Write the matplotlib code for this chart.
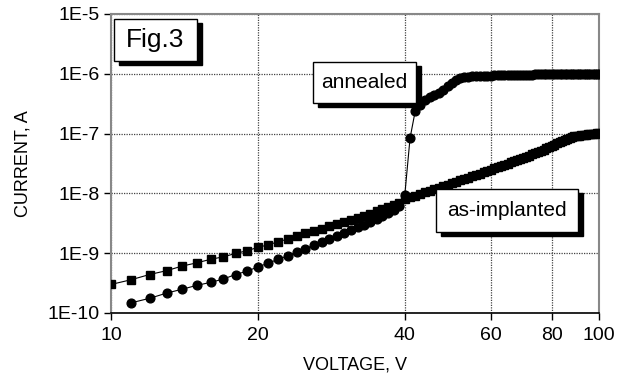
import numpy as np
import matplotlib.pyplot as plt
from matplotlib.patches import Rectangle
from matplotlib.ticker import FixedLocator, FuncFormatter, NullLocator

plt.rcParams['font.family'] = ['Liberation Sans', 'DejaVu Sans']

# as-implanted (squares), 10..100 V in 1 V steps
v_impl = list(range(10, 101))
i_impl = [3.0e-10, 3.6e-10, 4.4e-10, 5.1e-10, 6.1e-10, 6.9e-10, 7.9e-10, 8.7e-10, 9.9e-10, 1.1e-9,
          1.25e-9, 1.38e-9, 1.55e-9, 1.72e-9, 1.92e-9, 2.15e-9, 2.35e-9, 2.55e-9, 2.8e-9, 3.05e-9,
          3.3e-9, 3.6e-9, 3.9e-9, 4.25e-9, 4.6e-9, 5.0e-9, 5.45e-9, 5.9e-9, 6.4e-9, 7.0e-9,
          8.2e-9, 8.7e-9, 9.2e-9, 9.8e-9, 1.04e-8, 1.1e-8, 1.17e-8, 1.24e-8, 1.32e-8, 1.4e-8,
          1.48e-8, 1.56e-8, 1.65e-8, 1.74e-8, 1.84e-8, 1.94e-8, 2.04e-8, 2.15e-8, 2.26e-8, 2.38e-8,
          2.5e-8, 2.62e-8, 2.75e-8, 2.88e-8, 3.02e-8, 3.16e-8, 3.3e-8, 3.45e-8, 3.6e-8, 3.75e-8,
          3.9e-8, 4.1e-8, 4.3e-8, 4.5e-8, 4.7e-8, 4.9e-8, 5.15e-8, 5.4e-8, 5.65e-8, 5.95e-8,
          6.25e-8, 6.55e-8, 6.85e-8, 7.2e-8, 7.55e-8, 7.9e-8, 8.2e-8, 8.5e-8, 8.75e-8, 8.95e-8,
          9.1e-8, 9.25e-8, 9.4e-8, 9.5e-8, 9.6e-8, 9.7e-8, 9.8e-8, 9.9e-8, 1.0e-7, 1.01e-7,
          1.02e-7]

# annealed (circles), 11..100 V
v_ann = list(range(11, 101))
i_ann = [1.48e-10, 1.76e-10, 2.15e-10, 2.5e-10, 2.9e-10, 3.25e-10, 3.7e-10, 4.4e-10, 5.0e-10,
         5.9e-10, 6.8e-10, 7.9e-10, 9.0e-10, 1.04e-9, 1.18e-9, 1.36e-9, 1.52e-9, 1.73e-9, 1.94e-9,
         2.2e-9, 2.45e-9, 2.7e-9, 3.0e-9, 3.35e-9, 3.75e-9, 4.2e-9, 4.7e-9, 5.3e-9, 6.1e-9,
         9.5e-9, 8.4e-8, 2.35e-7, 3.0e-7, 3.6e-7, 4.1e-7, 4.5e-7, 4.8e-7, 5.3e-7, 6.2e-7,
         7.0e-7, 7.8e-7, 8.4e-7, 8.8e-7, 9.0e-7, 9.1e-7, 9.2e-7, 9.2e-7, 9.3e-7, 9.3e-7,
         9.3e-7, 9.4e-7, 9.4e-7, 9.4e-7, 9.5e-7, 9.5e-7, 9.5e-7, 9.6e-7, 9.6e-7, 9.6e-7,
         9.7e-7, 9.7e-7, 9.7e-7, 9.7e-7, 9.8e-7, 9.8e-7, 9.8e-7, 9.8e-7, 9.8e-7, 9.9e-7,
         9.9e-7, 9.9e-7, 9.9e-7, 9.9e-7, 9.9e-7, 1.0e-6, 1.0e-6, 1.0e-6, 1.0e-6, 1.0e-6,
         1.0e-6, 1.0e-6, 1.0e-6, 1.0e-6, 1.0e-6, 1.0e-6, 1.0e-6, 1.0e-6, 1.0e-6, 1.0e-6,
         1.0e-6]

x_ticks = [10, 20, 40, 60, 80, 100]
y_ticks = [1e-10, 1e-9, 1e-8, 1e-7, 1e-6, 1e-5]

fig = plt.figure(figsize=(6.26, 3.76), dpi=100)
ax = fig.add_axes([0.1773, 0.1676, 0.7796, 0.7952])

ax.plot(v_impl, i_impl, color='black', lw=0.8, marker='s', ms=5.5, zorder=3)
ax.plot(v_ann, i_ann, color='black', lw=0.8, marker='o', ms=6.3, zorder=3)

ax.set_xscale('log')
ax.set_yscale('log')
ax.set_xlim(10, 100)
ax.set_ylim(1e-10, 1e-5)

ax.xaxis.set_major_locator(FixedLocator(x_ticks))
ax.xaxis.set_minor_locator(NullLocator())
ax.xaxis.set_major_formatter(FuncFormatter(lambda v, p: '%d' % round(v)))
ax.yaxis.set_major_locator(FixedLocator(y_ticks))
ax.yaxis.set_minor_locator(NullLocator())
ax.yaxis.set_major_formatter(FuncFormatter(lambda v, p: '1E%d' % round(np.log10(v))))

ax.tick_params(direction='out', length=5, width=1, labelsize=14, color='black', pad=3)
ax.tick_params(axis='x', pad=5)
ax.grid(True, which='major', color='#444444', linestyle=(0, (1, 1)), lw=0.9)

for s in ['left', 'top', 'right']:
    ax.spines[s].set_color('#888888')
    ax.spines[s].set_linewidth(1.5)
ax.spines['bottom'].set_color('black')
ax.spines['bottom'].set_linewidth(1.2)

ax.set_xlabel('VOLTAGE, V', fontsize=13, labelpad=9)
ax.set_ylabel('CURRENT, A', fontsize=13, labelpad=12)

# boxes with drop shadow, axes fraction coordinates
def shadow_box(x0, y0, w, h, text, size):
    dx, dy = 5 / 488, 4 / 299
    ax.add_patch(Rectangle((x0 + dx, y0 - dy), w, h, transform=ax.transAxes,
                           facecolor='black', edgecolor='black', zorder=5, clip_on=False))
    ax.add_patch(Rectangle((x0, y0), w, h, transform=ax.transAxes,
                           facecolor='white', edgecolor='black', lw=1, zorder=6, clip_on=False))
    ax.text(x0 + w / 2, y0 + h / 2, text, transform=ax.transAxes, ha='center', va='center',
            fontsize=size, zorder=7)

shadow_box(0.006, 0.843, 0.170, 0.140, 'Fig.3', 19)
shadow_box(0.414, 0.702, 0.211, 0.137, 'annealed', 15)
shadow_box(0.666, 0.271, 0.291, 0.144, 'as-implanted', 15)

plt.savefig('out.png', dpi=100)
